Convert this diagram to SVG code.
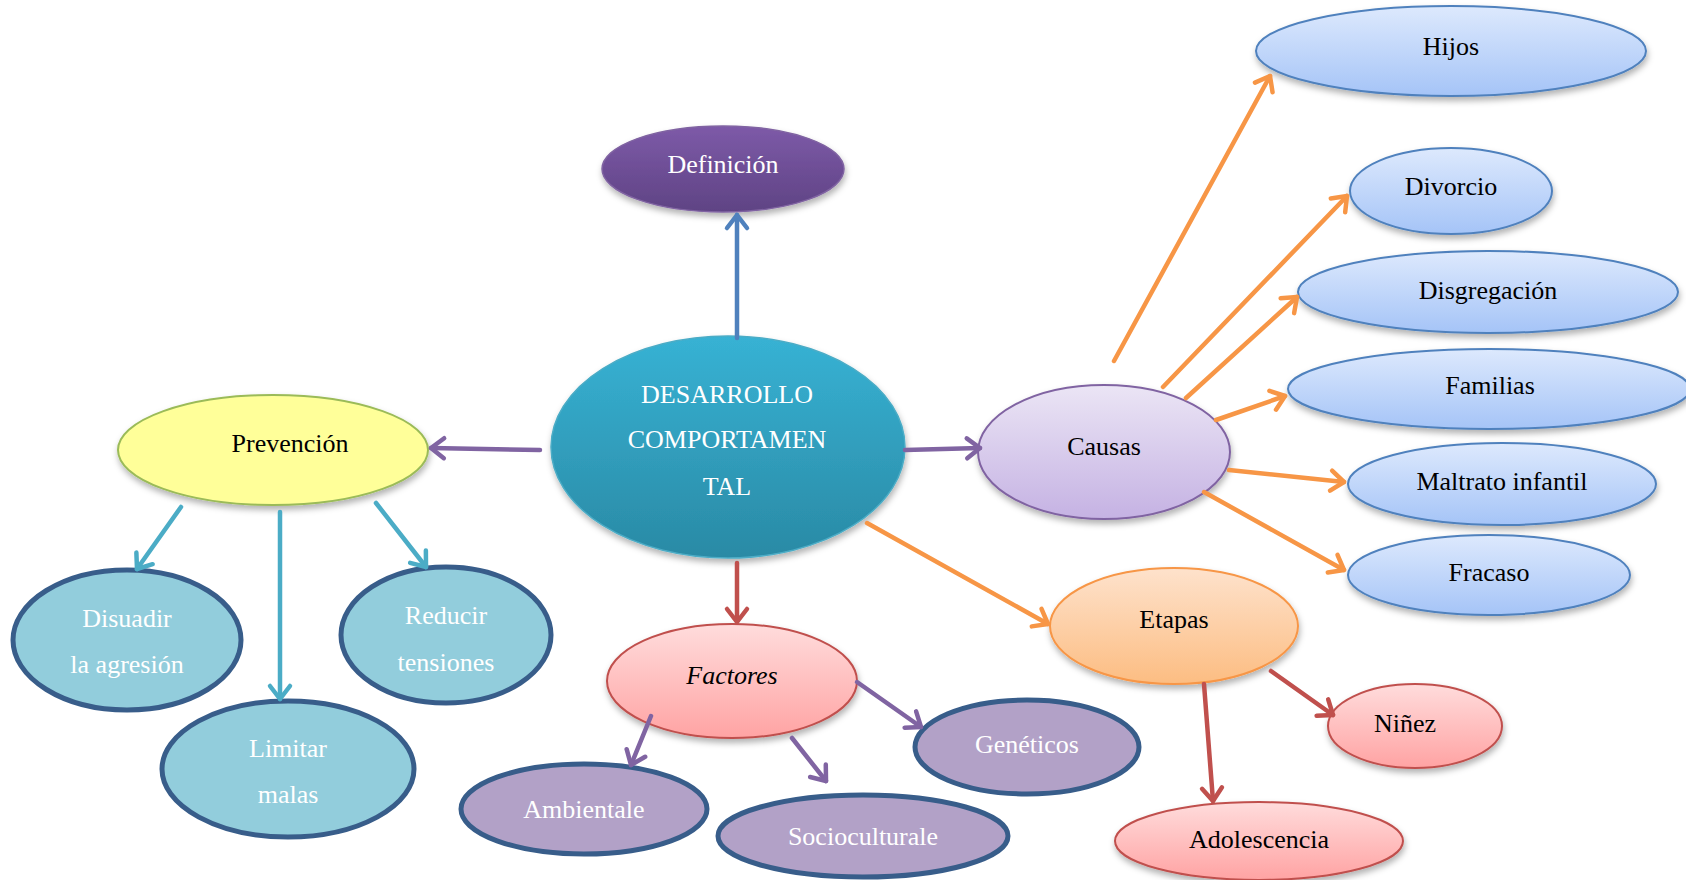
<svg xmlns="http://www.w3.org/2000/svg" width="1686" height="880" viewBox="0 0 1686 880">
<style>
text{font-family:"Liberation Serif","Times New Roman",serif;font-size:26px;text-anchor:middle}
.w{fill:#ffffff}
.k{fill:#000000}
.c{fill:none;stroke-width:4.5;stroke-linecap:round}
.blue{stroke:#4f81bd}.pur{stroke:#8064a2}.red{stroke:#c0504d}.org{stroke:#f79646}.teal{stroke:#4bacc6}
.lb{fill:#92cddc;stroke:#385d8a;stroke-width:5}
.vi{fill:#b2a1c7;stroke:#385d8a;stroke-width:5}
.bl{fill:url(#gBlue);stroke:#4f81bd;stroke-width:2}
.pk{fill:url(#gPink);stroke:#c0504d;stroke-width:2}
</style>
<defs>
<filter id="sh" x="-20%" y="-20%" width="140%" height="150%"><feDropShadow dx="1" dy="4" stdDeviation="3" flood-color="#000" flood-opacity="0.3"/></filter>
<linearGradient id="gCen" x1="0" y1="0" x2="0" y2="1"><stop offset="0" stop-color="#37b2d4"/><stop offset="1" stop-color="#2a8aa5"/></linearGradient>
<linearGradient id="gDef" x1="0" y1="0" x2="0" y2="1"><stop offset="0" stop-color="#7d5aa8"/><stop offset="1" stop-color="#5f4384"/></linearGradient>
<linearGradient id="gBlue" x1="0" y1="0" x2="0" y2="1"><stop offset="0" stop-color="#dde9fd"/><stop offset="1" stop-color="#a5c4f7"/></linearGradient>
<linearGradient id="gPink" x1="0" y1="0" x2="0" y2="1"><stop offset="0" stop-color="#ffdcdc"/><stop offset="1" stop-color="#ffa3a3"/></linearGradient>
<linearGradient id="gLav" x1="0" y1="0" x2="0" y2="1"><stop offset="0" stop-color="#ebe5f5"/><stop offset="1" stop-color="#c5b2e3"/></linearGradient>
<linearGradient id="gOrg" x1="0" y1="0" x2="0" y2="1"><stop offset="0" stop-color="#fee2cc"/><stop offset="1" stop-color="#fcbd82"/></linearGradient>
<marker id="aBlue" markerUnits="userSpaceOnUse" viewBox="-20 -14 26 28" markerWidth="26" markerHeight="28" refX="0" refY="0" orient="auto"><path d="M-13,-10 L0,0 L-13,10" fill="none" stroke="#4f81bd" stroke-width="4.5" stroke-linecap="round" stroke-linejoin="round"/></marker>
<marker id="aPur" markerUnits="userSpaceOnUse" viewBox="-20 -14 26 28" markerWidth="26" markerHeight="28" refX="0" refY="0" orient="auto"><path d="M-13,-10 L0,0 L-13,10" fill="none" stroke="#8064a2" stroke-width="4.5" stroke-linecap="round" stroke-linejoin="round"/></marker>
<marker id="aRed" markerUnits="userSpaceOnUse" viewBox="-20 -14 26 28" markerWidth="26" markerHeight="28" refX="0" refY="0" orient="auto"><path d="M-13,-10 L0,0 L-13,10" fill="none" stroke="#c0504d" stroke-width="4.5" stroke-linecap="round" stroke-linejoin="round"/></marker>
<marker id="aOrg" markerUnits="userSpaceOnUse" viewBox="-20 -14 26 28" markerWidth="26" markerHeight="28" refX="0" refY="0" orient="auto"><path d="M-13,-10 L0,0 L-13,10" fill="none" stroke="#f79646" stroke-width="4.5" stroke-linecap="round" stroke-linejoin="round"/></marker>
<marker id="aTeal" markerUnits="userSpaceOnUse" viewBox="-20 -14 26 28" markerWidth="26" markerHeight="28" refX="0" refY="0" orient="auto"><path d="M-13,-10 L0,0 L-13,10" fill="none" stroke="#4bacc6" stroke-width="4.5" stroke-linecap="round" stroke-linejoin="round"/></marker>
</defs>
<rect width="1686" height="880" fill="#ffffff"/>

<g id="n-central"><ellipse cx="728" cy="447" rx="177" ry="111" fill="url(#gCen)" stroke="#4bacc6" stroke-width="1.5" filter="url(#sh)"/><text class="w" x="727" y="403">DESARROLLO</text><text class="w" x="727" y="448">COMPORTAMEN</text><text class="w" x="727" y="495">TAL</text></g>
<g id="n-definicion"><ellipse cx="723" cy="169" rx="121" ry="43" fill="url(#gDef)" stroke="#8064a2" stroke-width="1.5" filter="url(#sh)"/><text class="w" x="723" y="173">Definición</text></g>
<g id="n-prevencion"><ellipse cx="273" cy="450" rx="155" ry="55" fill="#ffff99" stroke="#9bbb59" stroke-width="2" filter="url(#sh)"/><text class="k" x="290" y="452">Prevención</text></g>
<g id="n-disuadir"><ellipse cx="127" cy="640" rx="114" ry="70" class="lb"/><text class="w" x="127" y="627">Disuadir</text><text class="w" x="127" y="673">la agresión</text></g>
<g id="n-limitar"><ellipse cx="288" cy="769" rx="126" ry="68" class="lb"/><text class="w" x="288" y="757">Limitar</text><text class="w" x="288" y="803">malas</text></g>
<g id="n-reducir"><ellipse cx="446" cy="635" rx="105" ry="68" class="lb"/><text class="w" x="446" y="624">Reducir</text><text class="w" x="446" y="671">tensiones</text></g>
<g id="n-factores"><ellipse cx="732" cy="681" rx="125" ry="57" class="pk" filter="url(#sh)"/><text class="k" x="732" y="684" font-style="italic">Factores</text></g>
<g id="n-ambientale"><ellipse cx="584" cy="809" rx="123" ry="45" class="vi"/><text class="w" x="584" y="818">Ambientale</text></g>
<g id="n-sociocult"><ellipse cx="863" cy="836" rx="145" ry="41" class="vi"/><text class="w" x="863" y="845">Socioculturale</text></g>
<g id="n-geneticos"><ellipse cx="1027" cy="747" rx="112" ry="47" class="vi"/><text class="w" x="1027" y="753">Genéticos</text></g>
<g id="n-causas"><ellipse cx="1104" cy="452" rx="126" ry="67" fill="url(#gLav)" stroke="#8064a2" stroke-width="2" filter="url(#sh)"/><text class="k" x="1104" y="455">Causas</text></g>
<g id="n-etapas"><ellipse cx="1174" cy="626" rx="124" ry="58" fill="url(#gOrg)" stroke="#f79646" stroke-width="2" filter="url(#sh)"/><text class="k" x="1174" y="628">Etapas</text></g>
<g id="n-ninez"><ellipse cx="1415" cy="726" rx="87" ry="42" class="pk" filter="url(#sh)"/><text class="k" x="1405" y="732">Niñez</text></g>
<g id="n-adolescencia"><ellipse cx="1259" cy="841" rx="144" ry="39" class="pk" filter="url(#sh)"/><text class="k" x="1259" y="848">Adolescencia</text></g>
<g id="n-hijos"><ellipse cx="1451" cy="51" rx="195" ry="45" class="bl" filter="url(#sh)"/><text class="k" x="1451" y="55">Hijos</text></g>
<g id="n-divorcio"><ellipse cx="1451" cy="191" rx="101" ry="43" class="bl" filter="url(#sh)"/><text class="k" x="1451" y="195">Divorcio</text></g>
<g id="n-disgregacion"><ellipse cx="1488" cy="292" rx="190" ry="41" class="bl" filter="url(#sh)"/><text class="k" x="1488" y="299">Disgregación</text></g>
<g id="n-familias"><ellipse cx="1489" cy="389" rx="201" ry="40" class="bl" filter="url(#sh)"/><text class="k" x="1490" y="394">Familias</text></g>
<g id="n-maltrato"><ellipse cx="1502" cy="484" rx="154" ry="41" class="bl" filter="url(#sh)"/><text class="k" x="1502" y="490">Maltrato infantil</text></g>
<g id="n-fracaso"><ellipse cx="1489" cy="575" rx="141" ry="40" class="bl" filter="url(#sh)"/><text class="k" x="1489" y="581">Fracaso</text></g>

<g id="connectors">
<line class="c blue" x1="737" y1="338" x2="737" y2="215" marker-end="url(#aBlue)"/>
<line class="c pur" x1="540" y1="450" x2="431" y2="448" marker-end="url(#aPur)"/>
<line class="c pur" x1="905" y1="450" x2="980" y2="448" marker-end="url(#aPur)"/>
<line class="c red" x1="737" y1="563" x2="737" y2="622" marker-end="url(#aRed)"/>
<line class="c org" x1="867" y1="523" x2="1048" y2="624" marker-end="url(#aOrg)"/>
<line class="c teal" x1="181" y1="507" x2="137" y2="569" marker-end="url(#aTeal)"/>
<line class="c teal" x1="280" y1="512" x2="280" y2="699" marker-end="url(#aTeal)"/>
<line class="c teal" x1="376" y1="503" x2="426" y2="567" marker-end="url(#aTeal)"/>
<line class="c pur" x1="651" y1="716" x2="631" y2="765" marker-end="url(#aPur)"/>
<line class="c pur" x1="792" y1="738" x2="826" y2="781" marker-end="url(#aPur)"/>
<line class="c pur" x1="857" y1="682" x2="921" y2="727" marker-end="url(#aPur)"/>
<line class="c org" x1="1114" y1="361" x2="1270" y2="76" marker-end="url(#aOrg)"/>
<line class="c org" x1="1163" y1="387" x2="1347" y2="196" marker-end="url(#aOrg)"/>
<line class="c org" x1="1186" y1="398" x2="1297" y2="297" marker-end="url(#aOrg)"/>
<line class="c org" x1="1216" y1="420" x2="1285" y2="396" marker-end="url(#aOrg)"/>
<line class="c org" x1="1229" y1="470" x2="1344" y2="482" marker-end="url(#aOrg)"/>
<line class="c org" x1="1204" y1="492" x2="1344" y2="570" marker-end="url(#aOrg)"/>
<line class="c red" x1="1271" y1="671" x2="1333" y2="715" marker-end="url(#aRed)"/>
<line class="c red" x1="1204" y1="684" x2="1213" y2="801" marker-end="url(#aRed)"/>
</g>
</svg>
